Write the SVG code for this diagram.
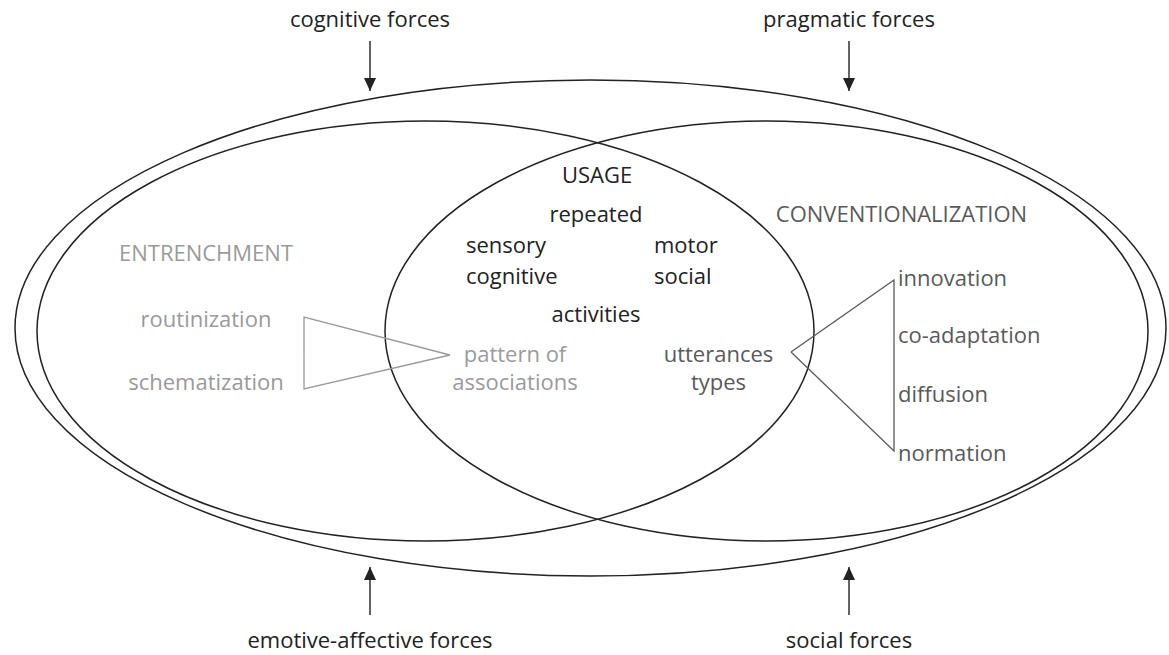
<svg xmlns="http://www.w3.org/2000/svg" width="1169" height="655" viewBox="0 0 1169 655">
<style>
  text { font-family: "Open Sans", "Noto Sans", "Liberation Sans", sans-serif; font-size: 22px; }
  .blk { fill: #222; }
  .mid { fill: #5a5a5a; }
  .lt { fill: #9a9a9a; }
  .c { text-anchor: middle; }
  .ell { fill: none; stroke: #222; stroke-width: 1.5; }
  .tri-lt { fill: none; stroke: #9a9a9a; stroke-width: 1.3; }
  .tri-mid { fill: none; stroke: #5a5a5a; stroke-width: 1.3; }
  .arr { stroke: #222; stroke-width: 1.4; fill: none; }
</style>
<defs>
  <marker id="ah" viewBox="0 0 13 12" refX="13" refY="6" markerWidth="13" markerHeight="12" markerUnits="userSpaceOnUse" orient="auto">
    <path d="M0,0 L13,6 L0,12 Z" fill="#222"/>
  </marker>
</defs>
<rect width="1169" height="655" fill="#fff"/>

<g id="outer">
  <ellipse class="ell" cx="590.5" cy="328" rx="575.5" ry="248"/>
</g>
<g id="entrenchment-ellipse">
  <ellipse class="ell" cx="425.5" cy="331" rx="388.5" ry="210"/>
</g>
<g id="conventionalization-ellipse">
  <ellipse class="ell" cx="766.5" cy="331" rx="381.5" ry="210"/>
</g>

<g id="connectors">
  <line class="arr" x1="370" y1="41" x2="370" y2="91" marker-end="url(#ah)"/>
  <line class="arr" x1="849" y1="41" x2="849" y2="91" marker-end="url(#ah)"/>
  <line class="arr" x1="370" y1="615" x2="370" y2="567" marker-end="url(#ah)"/>
  <line class="arr" x1="849" y1="615" x2="849" y2="567" marker-end="url(#ah)"/>
  <polyline class="tri-lt" points="450,355 304,317 304,389 450,355"/>
  <polyline class="tri-mid" points="791,352 894,280 894,451 791,352"/>
</g>

<g id="cognitive-forces"><text class="blk c" x="370" y="27">cognitive forces</text></g>
<g id="pragmatic-forces"><text class="blk c" x="849" y="27">pragmatic forces</text></g>
<g id="emotive-affective-forces"><text class="blk c" x="370" y="648">emotive-affective forces</text></g>
<g id="social-forces"><text class="blk c" x="849" y="648">social forces</text></g>

<g id="entrenchment">
  <text class="lt c" x="206" y="261">ENTRENCHMENT</text>
  <text class="lt c" x="206" y="327">routinization</text>
  <text class="lt c" x="206" y="390">schematization</text>
</g>
<g id="pattern">
  <text class="lt c" x="515" y="362">pattern of</text>
  <text class="lt c" x="515" y="390">associations</text>
</g>
<g id="usage">
  <text class="blk c" x="597" y="183">USAGE</text>
  <text class="blk c" x="596" y="222">repeated</text>
  <text class="blk" x="466" y="253">sensory</text>
  <text class="blk" x="466" y="284">cognitive</text>
  <text class="blk" x="654" y="253">motor</text>
  <text class="blk" x="654" y="284">social</text>
  <text class="blk c" x="596" y="322">activities</text>
</g>
<g id="utterances">
  <text class="mid c" x="718.5" y="362">utterances</text>
  <text class="mid c" x="718.5" y="390">types</text>
</g>
<g id="conventionalization">
  <text class="mid c" x="901.5" y="222">CONVENTIONALIZATION</text>
  <text class="mid" x="898" y="286">innovation</text>
  <text class="mid" x="898" y="343">co-adaptation</text>
  <text class="mid" x="898" y="402">diffusion</text>
  <text class="mid" x="898" y="461">normation</text>
</g>
</svg>
